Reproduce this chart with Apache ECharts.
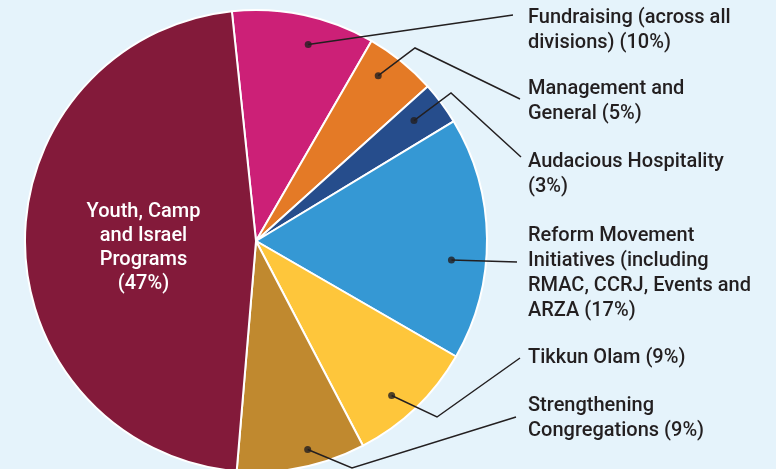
<!DOCTYPE html>
<html>
<head>
<meta charset="utf-8">
<script src="https://cdn.jsdelivr.net/npm/echarts@6/dist/echarts.min.js"></script>
<style>
  html, body { margin: 0; padding: 0; background: #e5f3fb; }
  #chart { width: 776px; height: 469px; }
</style>
</head>
<body>
<div id="chart"></div>
<script>
// data (percent of budget), in clockwise order from the top
var names = [
  'Fundraising (across all\ndivisions) (10%)',
  'Management and\nGeneral (5%)',
  'Audacious Hospitality\n(3%)',
  'Reform Movement\nInitiatives (including\nRMAC, CCRJ, Events and\nARZA (17%)',
  'Tikkun Olam (9%)',
  'Strengthening\nCongregations (9%)',
  'Youth, Camp\nand Israel\nPrograms\n(47%)'
];
var values = [10, 5, 3, 17, 9, 9, 47];
var colors = ['#cc2077', '#e47a26', '#264d8c', '#3598d4', '#fec63b', '#c0892f', '#831a3a'];

// pie geometry
var CX = 256, CY = 241, R = 231, START = 96;
// where the leader dots sit: shift from slice middle (percent units) and radius fraction
var dotShift = [0.8, -0.7, -0.2, 1.7, 0.7, -0.7];
var dotR = [0.88, 0.89, 0.86, 0.85, 0.89, 0.93];
// label placement: text block centre y, bend point, line end
var labelY = [30, 101, 174, 273, 358, 418];
var bends = [null, [415, 48], [451, 93], null, [437, 417], [352, 468]];
var ends = [[513, 15], [520, 99], [521, 157], [517, 262], [520, 358], [516, 417]];

var total = values.reduce(function(a, b) { return a + b; }, 0);
var dotAt = [];
var acc = 0;
values.forEach(function(v, i) {
  if (i < dotShift.length) dotAt.push((acc + v / 2) / total * 100 + dotShift[i]);
  acc += v;
});

function dotPixel(i) {
  var a = (90 - START + dotAt[i] * 3.6) * Math.PI / 180;
  return [CX + R * dotR[i] * Math.sin(a), CY - R * dotR[i] * Math.cos(a)];
}

var chart = echarts.init(document.getElementById('chart'));
var font = 'Roboto, "Liberation Sans", sans-serif';

var pieData = names.map(function(n, i) {
  return { name: n, value: values[i], itemStyle: { color: colors[i] } };
});

chart.setOption({
  backgroundColor: '#e5f3fb',
  animation: false,
  polar: { center: [CX, CY], radius: R },
  angleAxis: { type: 'value', min: 0, max: 100, startAngle: START, clockwise: true, show: false },
  radiusAxis: { type: 'value', min: 0, max: 1, show: false },
  series: [{
    // the slices
    type: 'pie',
    center: [CX, CY],
    radius: R,
    startAngle: START,
    clockwise: true,
    silent: true,
    label: { show: false },
    labelLine: { show: false },
    itemStyle: { borderColor: '#ffffff', borderWidth: 2 },
    data: pieData
  }, {
    // same pie, transparent, on top: carries labels and leader lines
    type: 'pie',
    z: 3,
    center: [CX, CY],
    radius: R,
    startAngle: START,
    clockwise: true,
    silent: true,
    itemStyle: { color: 'rgba(0,0,0,0)', borderWidth: 0 },
    label: {
      show: true,
      position: 'outside',
      color: '#231f20',
      fontFamily: font,
      fontWeight: 500,
      fontSize: 20,
      lineHeight: 25
    },
    labelLine: { show: true, lineStyle: { color: '#231f20', width: 1.5 } },
    labelLayout: function(params) {
      var i = params.dataIndex;
      if (i >= ends.length) return { dx: 6, dy: 6 };
      var d = dotPixel(i);
      var e = ends[i];
      var b = bends[i] || [(d[0] + e[0]) / 2, (d[1] + e[1]) / 2];
      return {
        x: 528,
        y: labelY[i],
        align: 'left',
        verticalAlign: 'middle',
        labelLinePoints: [d, b, e]
      };
    },
    data: names.map(function(n, i) {
      var item = { name: n, value: values[i] };
      if (i === names.length - 1) {
        item.label = { position: 'inside', color: '#ffffff', align: 'center', lineHeight: 24 };
        item.labelLine = { show: false };
      }
      return item;
    })
  }, {
    type: 'scatter',
    coordinateSystem: 'polar',
    z: 4,
    symbolSize: 7,
    silent: true,
    itemStyle: { color: '#231f20' },
    data: dotAt.map(function(m, i) { return [dotR[i], m]; })
  }]
});
</script>
</body>
</html>
